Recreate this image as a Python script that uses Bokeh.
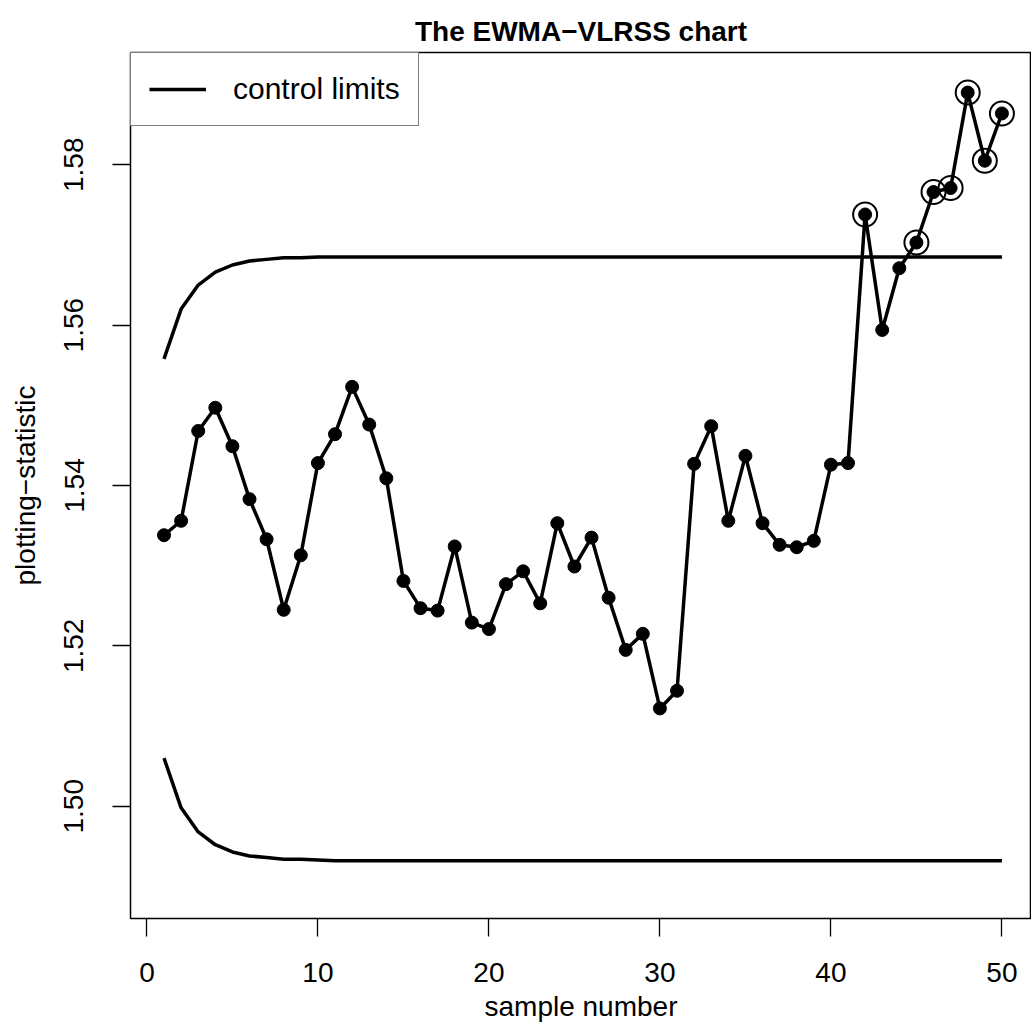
from bokeh.plotting import figure
from bokeh.models import (Range1d, FixedTicker, PrintfTickFormatter, Legend, LegendItem,
                          Title)
from bokeh.embed import file_html
from bokeh.resources import INLINE

# ---- data ----
sample = list(range(1, 51))
statistic = [1.5338, 1.5356, 1.5468, 1.5497, 1.5449, 1.5383, 1.5333, 1.5245, 1.5313, 1.5428,
             1.5464, 1.5523, 1.5476, 1.5409, 1.5281, 1.5247, 1.5244, 1.5324, 1.5229, 1.5221,
             1.5277, 1.5293, 1.5253, 1.5353, 1.5299, 1.5335, 1.5260, 1.5195, 1.5215, 1.5122,
             1.5144, 1.5427, 1.5474, 1.5356, 1.5437, 1.5353, 1.5326, 1.5323, 1.5331, 1.5426,
             1.5428, 1.5738, 1.5594, 1.5671, 1.5703, 1.5766, 1.5771, 1.5890, 1.5805, 1.5864]
ucl = [1.5558, 1.5620, 1.5650, 1.5666, 1.5675, 1.5680, 1.5682, 1.5684, 1.5684, 1.5685,
       1.5685, 1.5685, 1.5685, 1.5685, 1.5685, 1.5685, 1.5685, 1.5685, 1.5685, 1.5685,
       1.5685, 1.5685, 1.5685, 1.5685, 1.5685, 1.5685, 1.5685, 1.5685, 1.5685, 1.5685,
       1.5685, 1.5685, 1.5685, 1.5685, 1.5685, 1.5685, 1.5685, 1.5685, 1.5685, 1.5685,
       1.5685, 1.5685, 1.5685, 1.5685, 1.5685, 1.5685, 1.5685, 1.5685, 1.5685, 1.5685]
lcl = [1.5060, 1.4998, 1.4968, 1.4952, 1.4943, 1.4938, 1.4936, 1.4934, 1.4934, 1.4933,
       1.4932, 1.4932, 1.4932, 1.4932, 1.4932, 1.4932, 1.4932, 1.4932, 1.4932, 1.4932,
       1.4932, 1.4932, 1.4932, 1.4932, 1.4932, 1.4932, 1.4932, 1.4932, 1.4932, 1.4932,
       1.4932, 1.4932, 1.4932, 1.4932, 1.4932, 1.4932, 1.4932, 1.4932, 1.4932, 1.4932,
       1.4932, 1.4932, 1.4932, 1.4932, 1.4932, 1.4932, 1.4932, 1.4932, 1.4932, 1.4932]
x_ticks = [0, 10, 20, 30, 40, 50]
y_ticks = [1.50, 1.52, 1.54, 1.56, 1.58]
title_text = "The EWMA\u2212VLRSS chart"
x_label = "sample number"
y_label = "plotting\u2212statistic"
legend_label = "control limits"

# out-of-control points (beyond the limits)
ooc_x = [s for s, v, u, l in zip(sample, statistic, ucl, lcl) if v > u or v < l]
ooc_y = [v for s, v, u, l in zip(sample, statistic, ucl, lcl) if v > u or v < l]

FONT = "Liberation Sans"

p = figure(width=1031, height=1030, output_backend="svg", toolbar_location=None,
           x_range=Range1d(-0.96, 51.73), y_range=Range1d(1.486, 1.594),
           min_border_left=130, min_border_right=0, min_border_top=52, min_border_bottom=112)
p.background_fill_color = "white"
p.border_fill_color = "white"
p.xgrid.visible = False
p.ygrid.visible = False
p.outline_line_color = "black"
p.outline_line_width = 1.5

for ax in (p.xaxis[0], p.yaxis[0]):
    ax.axis_line_color = None
    ax.major_tick_line_color = "black"
    ax.major_tick_line_width = 1.3
    ax.major_tick_out = 18
    ax.major_tick_in = 0
    ax.minor_tick_line_color = None
    ax.major_label_text_font = FONT
    ax.major_label_text_font_size = "28px"
    ax.major_label_text_color = "black"
    ax.axis_label_text_font = FONT
    ax.axis_label_text_font_size = "28px"
    ax.axis_label_text_font_style = "normal"
    ax.axis_label_text_color = "black"

p.xaxis.ticker = FixedTicker(ticks=x_ticks)
p.yaxis.ticker = FixedTicker(ticks=y_ticks)
p.yaxis.formatter = PrintfTickFormatter(format="%.2f")
p.yaxis.major_label_orientation = "vertical"
p.xaxis.axis_label = x_label
p.yaxis.axis_label = y_label
p.xaxis.major_label_standoff = 26
p.xaxis.axis_label_standoff = 6
p.yaxis.major_label_standoff = 29
p.yaxis.axis_label_standoff = 21

ucl_r = p.line(sample, ucl, line_color="black", line_width=3.5)
p.line(sample, lcl, line_color="black", line_width=3.5)
p.line(sample, statistic, line_color="black", line_width=3.5)
p.scatter(sample, statistic, size=13, fill_color="black", line_color="black")
p.scatter(ooc_x, ooc_y, size=24, fill_color=None, line_color="black", line_width=2)

legend = Legend(items=[LegendItem(label=legend_label, renderers=[ucl_r])],
                location="top_left", margin=0, padding=18, spacing=0,
                glyph_width=57, glyph_height=36, label_height=36, label_standoff=27,
                label_text_font=FONT, label_text_font_size="30px", label_text_color="black",
                border_line_color="black", border_line_width=1.5,
                background_fill_color="white", background_fill_alpha=1.0)
p.add_layout(legend)

title = Title(text=title_text, align="center", offset=5, standoff=12,
              text_font=FONT, text_font_size="28px", text_font_style="bold",
              text_color="black")
p.add_layout(title, "above")

open("out.html", "w").write(file_html(p, INLINE))
